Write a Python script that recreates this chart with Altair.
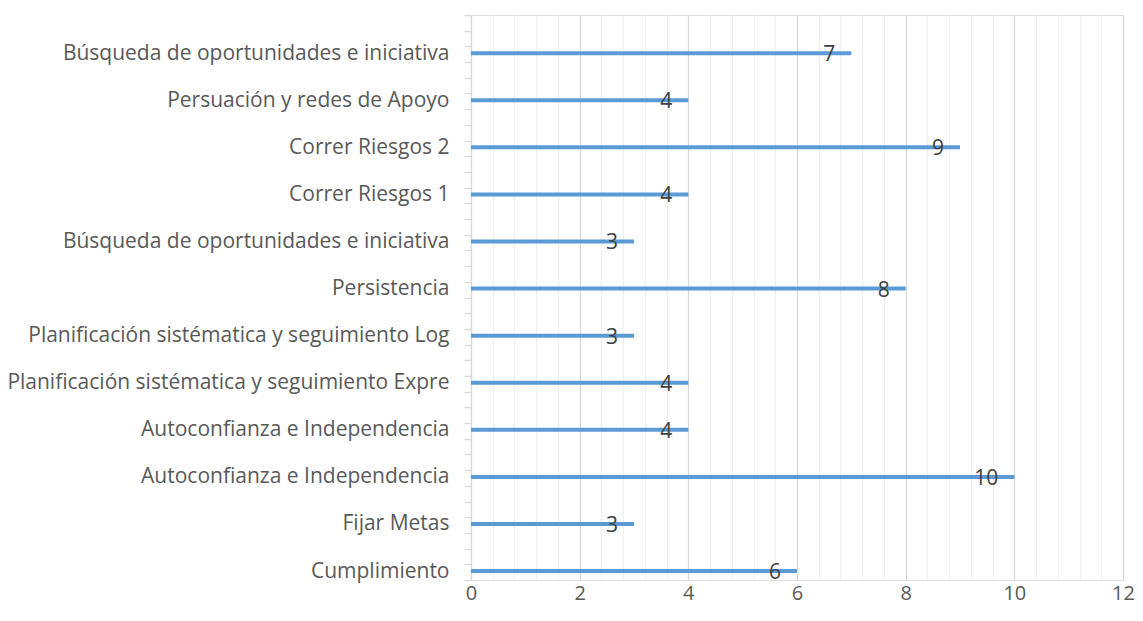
import json
import altair as alt
import pandas as pd

names = [
    "Cumplimiento",
    "Fijar Metas",
    "Autoconfianza e Independencia",
    "Autoconfianza e Independencia",
    "Planificación sistématica y seguimiento Expre",
    "Planificación sistématica y seguimiento Log",
    "Persistencia",
    "Búsqueda de oportunidades e iniciativa",
    "Correr Riesgos 1",
    "Correr Riesgos 2",
    "Persuación y redes de Apoyo",
    "Búsqueda de oportunidades e iniciativa",
]
values = [6, 3, 10, 4, 4, 3, 8, 3, 4, 9, 4, 7]
x_ticks = [0, 2, 4, 6, 8, 10, 12]

df = pd.DataFrame({"idx": list(range(len(names))), "value": values})

FONT = "Open Sans"
label_expr = "[" + ",".join(json.dumps(n, ensure_ascii=False) for n in names) + "][datum.value]"

x_scale = alt.Scale(domain=[0, 12], nice=False, zero=False)
y_scale = alt.Scale(domain=[-0.19, 11.81], nice=False, zero=False)

major_x_axis = alt.Axis(
    values=x_ticks, grid=True, gridColor="#D9D9D9", gridWidth=1.3,
    domain=False, ticks=False, labelFontSize=20, labelColor="#595959",
    labelFont=FONT, labelPadding=3, title=None, orient="bottom",
    labelFlush=False, labelOverlap=False,
)
minor_x_axis = alt.Axis(
    values=[round(0.4 * k, 1) for k in range(31) if k % 5],
    grid=True, gridColor="#F0F0F0", gridWidth=1.3,
    domain=False, ticks=False, labels=False, title=None, orient="bottom",
)
label_y_axis = alt.Axis(
    values=list(range(len(names))), labelExpr=label_expr, ticks=False, tickSize=0,
    domain=False, grid=False, labelFontSize=21, labelColor="#595959",
    labelFont=FONT, labelPadding=22, title=None, orient="left", labelLimit=0,
    labelFlush=False, labelOverlap=False,
)
tick_y_axis = alt.Axis(
    values=[-0.19 + k / 3 for k in range(37)], labels=False, ticks=True,
    tickSize=7, tickColor="#D9D9D9", tickWidth=1.3, domain=True,
    domainColor="#D9D9D9", domainWidth=1.3, grid=False, title=None, orient="left",
)

base = alt.Chart(df)

bars = base.mark_rule(color="#5B9BD5", strokeWidth=4).encode(
    x=alt.X("value:Q", scale=x_scale, axis=major_x_axis),
    x2=alt.value(0),
    y=alt.Y("idx:Q", scale=y_scale, axis=label_y_axis),
)

labels = base.mark_text(
    align="right", baseline="middle", dx=-16, dy=2, fontSize=21,
    font=FONT, color="#404040",
).encode(
    x=alt.X("value:Q", scale=x_scale, axis=None),
    y=alt.Y("idx:Q", scale=y_scale, axis=None),
    text=alt.Text("value:Q"),
)

minor = base.mark_point(opacity=0).encode(
    x=alt.X("value:Q", scale=x_scale, axis=minor_x_axis),
    y=alt.Y("idx:Q", scale=y_scale, axis=tick_y_axis),
)

chart = (
    alt.layer(minor, bars, labels)
    .resolve_axis(x="independent", y="independent")
    .properties(
        width=652, height=565, autosize="none",
        padding={"left": 463, "top": 7, "right": 12, "bottom": 28},
    )
    .configure_view(stroke=None)
    .configure(background="white")
)

chart.save("out.html", embed_options={"renderer": "svg", "actions": False})
